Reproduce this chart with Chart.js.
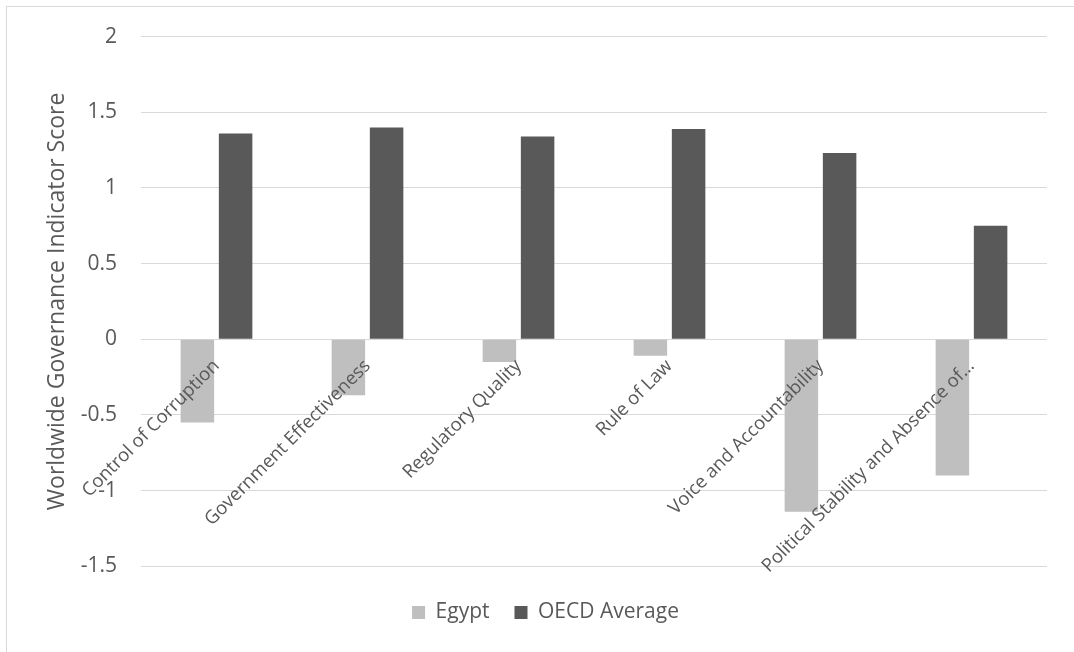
<!DOCTYPE html>
<html>
<head>
<meta charset="utf-8">
<script src="https://cdn.jsdelivr.net/npm/chart.js@4.4.1/dist/chart.umd.min.js"></script>
<style>
  html, body { margin: 0; padding: 0; background: #fff; }
  #wrap { position: relative; width: 1074px; height: 652px; overflow: hidden; }
  #frame { position: absolute; left: 6px; top: 6px; width: 1200px; height: 800px; border: 1px solid #d9d9d9; box-sizing: border-box; }
  canvas { position: absolute; left: 0; top: 0; }
</style>
</head>
<body>
<div id="wrap">
  <div id="frame"></div>
  <canvas id="wgiChart" width="1074" height="652"></canvas>
</div>
<script>
// Governance dimensions
const categories = [
  "Control of Corruption",
  "Government Effectiveness",
  "Regulatory Quality",
  "Rule of Law",
  "Voice and Accountability",
  "Political Stability and Absence of\u2026",
];

// Indicator scores
const egyptScores = [-0.55, -0.37, -0.15, -0.11, -1.14, -0.90];
const oecdScores = [1.36, 1.40, 1.34, 1.39, 1.23, 0.75];

// Value axis
const yMin = -1.5;
const yMax = 2;
const yStep = 0.5;

const textColor = "#595959";
const fontFamily = "'Open Sans', 'Noto Sans', sans-serif";

const ctx = document.getElementById("wgiChart").getContext("2d");

const chart = new Chart(ctx, {
  type: "bar",
  data: {
    labels: categories,
    datasets: [
      {
        label: "Egypt",
        data: egyptScores,
        backgroundColor: "#bfbfbf",
        categoryPercentage: 0.506,
        barPercentage: 0.877,
      },
      {
        label: "OECD Average",
        data: oecdScores,
        backgroundColor: "#595959",
        categoryPercentage: 0.506,
        barPercentage: 0.877,
      },
    ],
  },
  options: {
    responsive: false,
    animation: false,
    devicePixelRatio: 1,
    layout: { padding: { left: 44, right: 27, top: 35, bottom: 19 } },
    scales: {
      x: {
        // category labels hang off the zero line, on top of the bars
        position: { y: 0 },
        grid: { display: false },
        border: { display: false },
        ticks: {
          z: 1,
          autoSkip: false,
          minRotation: 45,
          maxRotation: 45,
          padding: 8,
          color: textColor,
          font: { family: fontFamily, size: 18.5 },
        },
      },
      y: {
        min: yMin,
        max: yMax,
        afterFit: (scale) => { scale.width = 97; },
        grid: { color: "#d9d9d9", lineWidth: 1, drawTicks: false },
        border: { display: false },
        ticks: {
          stepSize: yStep,
          padding: 24,
          color: textColor,
          font: { family: fontFamily, size: 21 },
          callback: (value) => value.toString(),
        },
        title: {
          display: true,
          text: "Worldwide Governance Indicator Score",
          color: textColor,
          padding: 0,
          font: { family: fontFamily, size: 23 },
        },
      },
    },
    plugins: {
      legend: {
        position: "bottom",
        // empty title only adds a little space above the legend items
        title: { display: true, text: "", padding: 0, font: { size: 9 } },
        labels: {
          boxWidth: 13,
          boxHeight: 13,
          padding: 25,
          color: textColor,
          font: { family: fontFamily, size: 21 },
        },
      },
      tooltip: { enabled: false },
    },
  },
});
</script>
</body>
</html>
